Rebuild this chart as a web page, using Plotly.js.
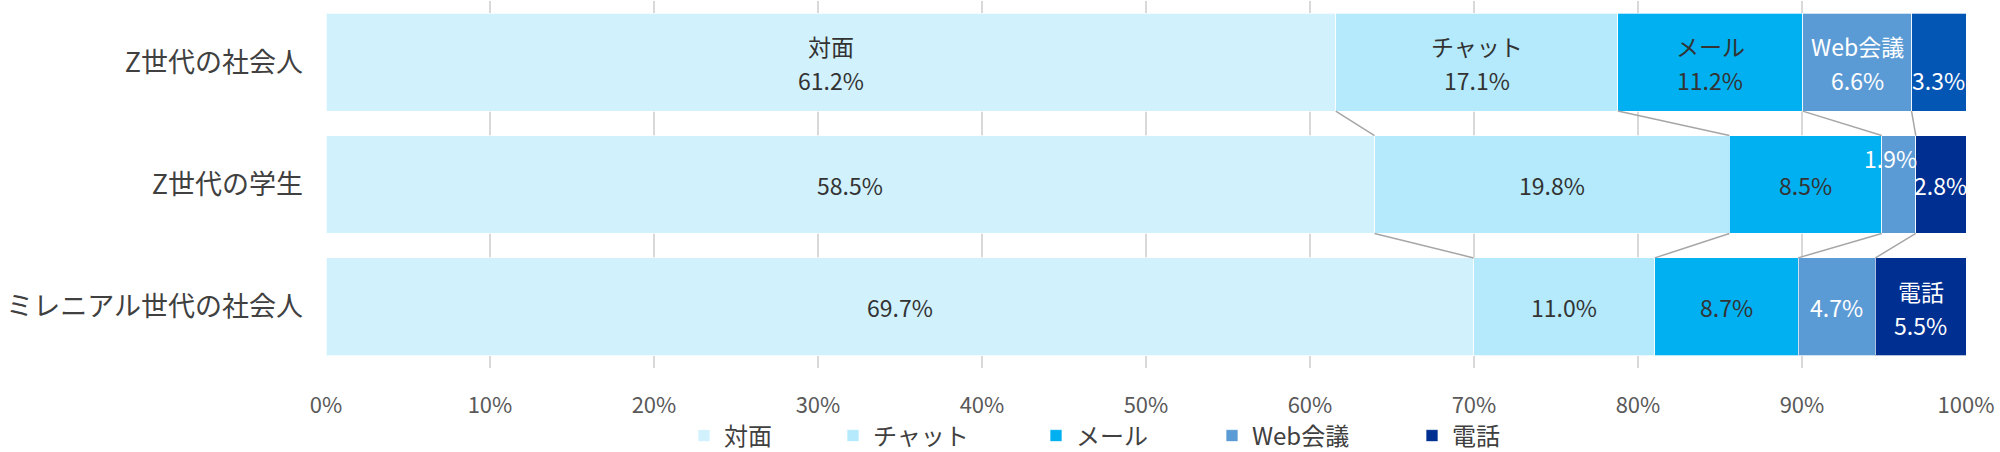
<!DOCTYPE html>
<html>
<head>
<meta charset="utf-8">
<script src="https://cdn.plot.ly/plotly-3.0.1.min.js"></script>
<style>
  html, body {margin:0; padding:0; background:#fff;}
  #chart {width:2000px; height:452px;}
</style>
</head>
<body>
<div id="chart"></div>
<script>
// --- data ---
const categories = ["Z世代の社会人", "Z世代の学生", "ミレニアル世代の社会人"];
const seriesNames = ["対面", "チャット", "メール", "Web会議", "電話"];
const faceToFace = [61.2, 58.5, 69.7];
const chat       = [17.1, 19.8, 11.0];
const mail       = [11.2, 8.5, 8.7];
const webMeeting = [6.6, 1.9, 4.7];
const phone      = [3.3, 2.8, 5.5];
const xTicks = [0, 10, 20, 30, 40, 50, 60, 70, 80, 90, 100];

// which segment labels also carry the series name (row-series)
const namedLabels = ["0-0", "0-1", "0-2", "0-3", "2-4"];

// --- styling ---
const FONT = "'Noto Sans CJK JP', 'Noto Sans', sans-serif";
const PALETTE = ["#D1F1FD", "#B4EAFC", "#00B0F0", "#5B9BD5", "#002F92"];
const PHONE_TOP = "#0456B4";           // the first row's 電話 segment is a lighter blue
const LABEL_CLR = ["#333333", "#333333", "#333333", "#ffffff", "#ffffff"];
const legendCenters = [704, 853, 1056, 1232, 1432];   // px, marker centres
const M = {l: 326, r: 34, t: 1, b: 84, autoexpand: false};
const plotW = 2000 - M.l - M.r;
const plotH = 452 - M.t - M.b;
// label nudges (px) for crowded segments
const valueShift = {"0-4": {x: 0, y: -18}, "1-3": {x: -8, y: 27}};

const seriesValues = [faceToFace, chat, mail, webMeeting, phone];
const yPos = categories.map((c, i) => i);
const rowTotals = categories.map((c, r) => seriesValues.reduce((s, arr) => s + arr[r], 0));

// normalised segment edges (percent of each row)
const edges = categories.map((c, r) => {
    let acc = 0;
    return seriesValues.map(arr => {
        const start = acc / rowTotals[r] * 100;
        acc += arr[r];
        return [start, acc / rowTotals[r] * 100];
    });
});

const traces = [];
seriesValues.forEach((vals, k) => {
    // legend swatch takes the first point's colour, so list the dark 電話 rows first
    const order = k === 4 ? [1, 2, 0] : [0, 1, 2];
    traces.push({
        type: "bar",
        orientation: "h",
        name: seriesNames[k],
        x: order.map(r => vals[r]),
        y: order.map(r => yPos[r]),
        width: 0.8,
        marker: {
            color: order.map(r => (k === 4 && r === 0) ? PHONE_TOP : PALETTE[k]),
            line: {width: 1, color: "rgba(255,255,255,0.7)"}
        },
        legend: k === 0 ? "legend" : "legend" + (k + 1),
        hovertemplate: `${seriesNames[k]} %{x:.1f}%<extra></extra>`
    });
});

// series lines between neighbouring bars
for (let r = 0; r < categories.length - 1; r++) {
    for (let k = 0; k < seriesValues.length - 1; k++) {
        traces.push({
            type: "scatter",
            mode: "lines",
            x: [edges[r][k][1], edges[r + 1][k][1]],
            y: [yPos[r] + 0.4, yPos[r + 1] - 0.4],
            line: {color: "#A6A6A6", width: 1.5},
            showlegend: false,
            hoverinfo: "skip"
        });
    }
}

// data labels
const annotations = [];
categories.forEach((c, r) => {
    seriesValues.forEach((vals, k) => {
        const key = r + "-" + k;
        const xc = (edges[r][k][0] + edges[r][k][1]) / 2;
        const font = {family: FONT, size: 23, color: LABEL_CLR[k]};
        const named = namedLabels.includes(key);
        const shift = valueShift[key] || {x: 0, y: named ? -18 : 0};
        if (named) {
            annotations.push({x: xc, y: yPos[r], xref: "x", yref: "y", text: seriesNames[k],
                showarrow: false, font: font, yshift: 16});
        }
        annotations.push({x: xc, y: yPos[r], xref: "x", yref: "y",
            text: vals[r].toFixed(1) + "%", showarrow: false, font: font,
            xshift: shift.x, yshift: named ? -18 : shift.y});
    });
});

const layout = {
    width: 2000,
    height: 452,
    margin: M,
    paper_bgcolor: "#ffffff",
    plot_bgcolor: "#ffffff",
    barmode: "stack",
    barnorm: "percent",
    bargap: 0.2,
    font: {family: FONT, color: "#404040"},
    xaxis: {
        range: [0, 100],
        tickvals: xTicks,
        ticktext: xTicks.map(v => v + "%"),
        showgrid: true,
        gridcolor: "#D9D9D9",
        gridwidth: 1.5,
        zeroline: false,
        showline: false,
        ticks: "",
        ticklabelstandoff: 22,
        tickfont: {size: 22, color: "#595959", family: FONT},
        fixedrange: true
    },
    yaxis: {
        range: [categories.length - 0.5, -0.5],
        tickvals: yPos,
        ticktext: categories,
        showgrid: false,
        zeroline: false,
        showline: false,
        ticks: "",
        ticklabelstandoff: 22,
        tickfont: {size: 27, color: "#404040", family: FONT},
        fixedrange: true
    },
    annotations: annotations,
    showlegend: true
};

// one legend per entry so each marker sits where the original puts it
legendCenters.forEach((cx, k) => {
    const key = k === 0 ? "legend" : "legend" + (k + 1);
    layout[key] = {
        orientation: "h",
        x: (cx - 20 - M.l) / plotW,
        xanchor: "left",
        y: (M.t + plotH - 436) / plotH,
        yanchor: "middle",
        bgcolor: "rgba(0,0,0,0)",
        borderwidth: 0,
        font: {size: 24, color: "#404040", family: FONT}
    };
});

Plotly.newPlot("chart", traces, layout, {displayModeBar: false, staticPlot: true});
</script>
</body>
</html>
